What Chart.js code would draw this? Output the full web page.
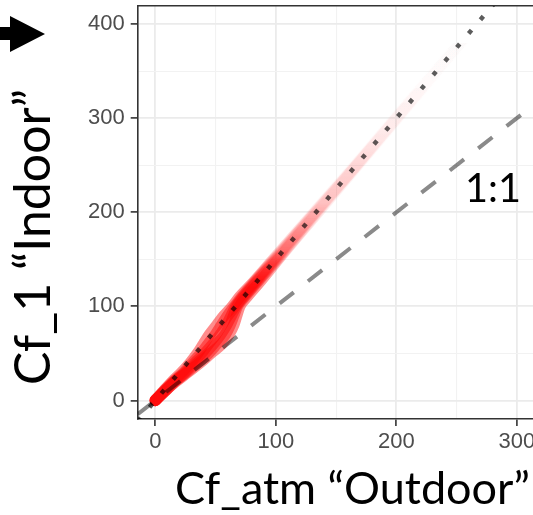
<!DOCTYPE html>
<html><head><meta charset="utf-8">
<script src="https://cdn.jsdelivr.net/npm/chart.js@4/dist/chart.umd.min.js"></script>
<style>html,body{margin:0;padding:0;background:#fff;overflow:hidden}canvas{display:block}</style>
</head><body>
<canvas id="c" width="533" height="515"></canvas>
<script>
// ---- values ----
const xTickValues = [0, 100, 200, 300];
const yTickValues = [0, 100, 200, 300, 400];
const xTitle = 'Cf_atm “Outdoor”';
const yTitle = 'Cf_1 “Indoor”';
const refLabel = '1:1';

// axis limits (panel edges)
const xLimits = [-14.6, 313.4];
const yLimits = [-19.7, 419.2];

// 1:1 reference line
const oneToOneX = [-14.6, 420];
const oneToOneY = [-14.6, 420];
// dotted line (slope about 1.5)
const fitX = [-14.6, 300];
const fitY = [-21.9, 450];

// ensemble band: y levels and the x of each member at that level
const bandY  = [0, 10, 20, 30, 40, 50, 60, 70, 80, 90, 100, 110, 125, 150, 200, 250, 300, 350, 420];
const bandX1 = [0, 7, 14, 22, 29, 35, 40, 45, 51, 57, 64, 70, 81, 98, 132, 166, 199, 232, 279];
const bandX2 = [0, 7, 15, 24, 31, 38, 44, 50, 55, 60, 66, 72, 82, 99, 133, 167, 200, 233, 280];
const bandX3 = [0, 8, 16, 25, 33, 41, 48, 54, 59, 63, 67, 73, 83, 100, 133, 167, 200, 233, 280];
const bandX4 = [0, 8, 16, 26, 35, 44, 51, 58, 62, 65, 68, 74, 84, 101, 134, 167, 200, 233, 280];
const bandX5 = [0, 8, 17, 27, 37, 46, 55, 61, 65, 67.5, 70, 76, 86, 102, 135, 168, 201, 234, 281];
const bandMembers = [bandX1, bandX2, bandX3, bandX4, bandX5];

// ---- styling ----
const fadeStops = [[0, 1], [120, 1], [160, 0.35], [210, 0.12], [280, 0.04], [340, 0.012], [420, 0]];
function bandColor(alpha) {
  return (ctx) => {
    const chart = ctx.chart;
    if (!chart.chartArea || !chart.scales.y) return `rgba(255,0,0,${alpha})`;
    const ys = chart.scales.y;
    const y0 = ys.getPixelForValue(0), y1 = ys.getPixelForValue(420);
    const g = chart.ctx.createLinearGradient(0, y0, 0, y1);
    fadeStops.forEach(([v, m]) => g.addColorStop(v / 420, `rgba(255,0,0,${(alpha * m).toFixed(4)})`));
    return g;
  };
}
const pts = (xs, ys) => xs.map((x, i) => ({x, y: ys[i]}));

const datasets = [
  { data: pts(fitX, fitY), borderColor: 'rgba(0,0,0,0.64)', borderWidth: 4.5, borderDash: [4.5, 13.7], order: 0 },
  { data: pts(oneToOneX, oneToOneY), borderColor: 'rgba(0,0,0,0.46)', borderWidth: 4, borderDash: [18, 18], order: 0 },
  ...bandMembers.map(xs => ({
    data: pts(xs, bandY), borderColor: bandColor(0.45), borderWidth: 11.5,
    borderCapStyle: 'round', borderJoinStyle: 'round', cubicInterpolationMode: 'monotone', order: 1
  }))
].map(d => Object.assign({ pointRadius: 0, fill: false, clip: 0 }, d));

const gridCol = (vals) => (c) => (c.tick && vals.includes(c.tick.value)) ? '#EBEBEB' : '#F2F2F2';
const gridW = (vals) => (c) => (c.tick && vals.includes(c.tick.value)) ? 1.8 : 1.1;
const tickCol = (vals) => (c) => (c.tick && vals.includes(c.tick.value)) ? '#333333' : 'rgba(0,0,0,0)';
const tickFont = { family: 'Liberation Sans, Arial, sans-serif', size: 22 };

const annotate = {
  id: 'annotate',
  afterDraw(chart) {
    const c = chart.ctx;
    c.save();
    c.fillStyle = '#000';
    // arrow at top left
    c.beginPath();
    c.moveTo(0, 27); c.lineTo(10, 27); c.lineTo(10, 16); c.lineTo(45, 34);
    c.lineTo(10, 52); c.lineTo(10, 40); c.lineTo(0, 40); c.closePath(); c.fill();
    const fam = 'Lato, "Open Sans", sans-serif';
    const fit = (t, w) => { c.font = `100px ${fam}`; return 100 * w / c.measureText(t).width; };
    c.textAlign = 'left'; c.textBaseline = 'alphabetic';
    // x title
    c.font = `${fit(xTitle, 355)}px ${fam}`;
    c.fillText(xTitle, 175, 504);
    // 1:1 label
    c.font = `${fit(refLabel, 56)}px ${fam}`;
    c.fillText(refLabel, 465, 202);
    // y title
    c.translate(50, 385); c.rotate(-Math.PI / 2);
    c.font = `${fit(yTitle, 296)}px ${fam}`;
    c.fillText(yTitle, 0, 0);
    c.restore();
  }
};

new Chart(document.getElementById('c'), {
  type: 'line',
  data: { datasets },
  plugins: [annotate],
  options: {
    responsive: false, animation: false,
    layout: { padding: { top: 6, left: 0, right: 0, bottom: 0 } },
    plugins: { legend: { display: false }, tooltip: { enabled: false } },
    scales: {
      x: {
        type: 'linear', position: 'bottom', min: xLimits[0], max: xLimits[1],
        ticks: { stepSize: 50, includeBounds: false, autoSkip: false, maxRotation: 0, padding: 3,
                 color: '#4D4D4D', font: tickFont,
                 callback: v => xTickValues.includes(v) ? String(v) : '' },
        grid: { color: gridCol(xTickValues), lineWidth: gridW(xTickValues), tickLength: 7,
                tickColor: tickCol(xTickValues), tickWidth: 1.6 },
        border: { display: true, color: '#333333', width: 1.6 },
        afterFit: s => { s.height = 96; s.paddingLeft = 0; s.paddingRight = 0; }
      },
      xTop: {
        type: 'linear', position: 'top', min: xLimits[0], max: xLimits[1],
        ticks: { display: false }, grid: { display: false, drawTicks: false },
        border: { display: true, color: '#333333', width: 1.6 },
        afterFit: s => { s.height = 0; s.paddingLeft = 0; s.paddingRight = 0; }
      },
      y: {
        type: 'linear', min: yLimits[0], max: yLimits[1],
        ticks: { stepSize: 50, includeBounds: false, autoSkip: false, padding: 6,
                 color: '#4D4D4D', font: tickFont,
                 callback: v => yTickValues.includes(v) ? String(v) : '' },
        grid: { color: gridCol(yTickValues), lineWidth: gridW(yTickValues), tickLength: 7,
                tickColor: tickCol(yTickValues), tickWidth: 1.6 },
        border: { display: true, color: '#333333', width: 1.6 },
        afterFit: s => { s.width = 137.7; s.paddingTop = 0; s.paddingBottom = 0; }
      }
    }
  }
});
</script>
</body></html>
